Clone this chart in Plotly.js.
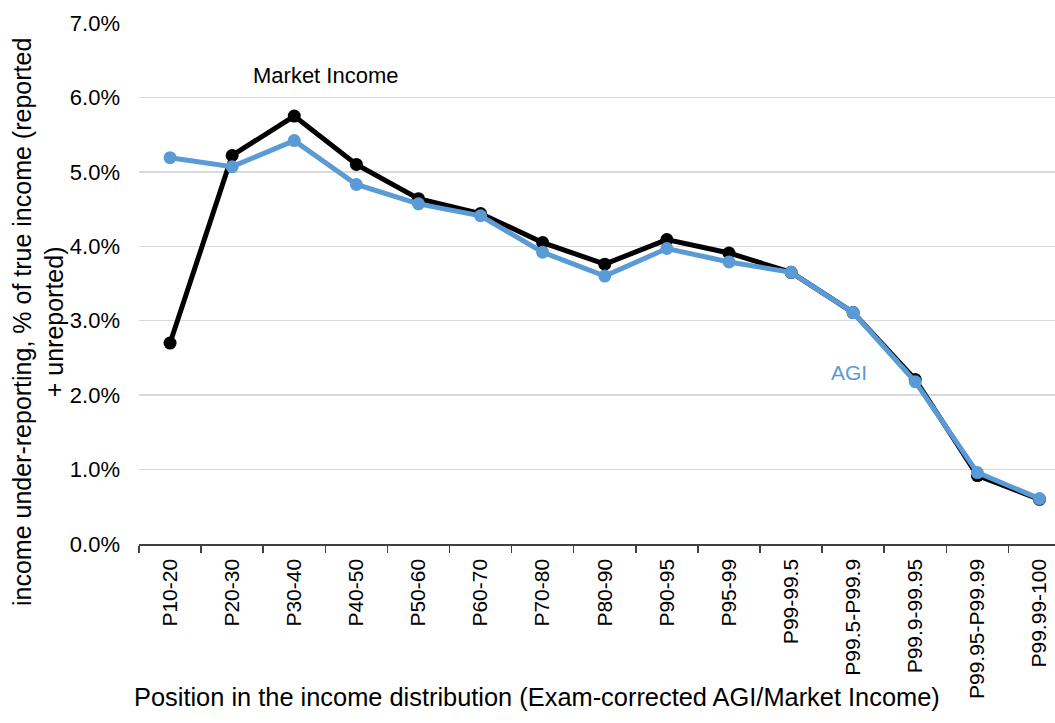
<!DOCTYPE html>
<html>
<head>
<meta charset="utf-8">
<script src="https://cdn.plot.ly/plotly-3.0.1.min.js"></script>
<style>html,body{margin:0;padding:0;background:#fff;}#chart{width:1055px;height:723px;}</style>
</head>
<body>
<div id="chart"></div>
<script>
const categories = ['P10-20','P20-30','P30-40','P40-50','P50-60','P60-70','P70-80','P80-90','P90-95','P95-99','P99-99.5','P99.5-P99.9','P99.9-99.95','P99.95-P99.99','P99.99-100'];
const marketIncome = [2.70,5.22,5.75,5.10,4.64,4.44,4.05,3.76,4.09,3.91,3.65,3.11,2.21,0.92,0.60];
const agi = [5.19,5.07,5.42,4.83,4.57,4.41,3.92,3.60,3.97,3.79,3.65,3.11,2.18,0.96,0.61];
const yTicks = [0,1,2,3,4,5,6,7];
const yTickLabels = ['0.0%','1.0%','2.0%','3.0%','4.0%','5.0%','6.0%','7.0%'];

const FONT = 'Liberation Sans, Arial, sans-serif';

const traces = [
  {x: categories, y: marketIncome, name: 'Market Income', type: 'scatter', mode: 'lines+markers',
   line: {color: '#000000', width: 5}, marker: {color: '#000000', size: 13}},
  {x: categories, y: agi, name: 'AGI', type: 'scatter', mode: 'lines+markers',
   line: {color: '#5B9BD5', width: 5}, marker: {color: '#5B9BD5', size: 13}}
];

const layout = {
  width: 1055, height: 723,
  margin: {l: 139, r: 0, t: 23, b: 179},
  paper_bgcolor: '#ffffff', plot_bgcolor: '#ffffff',
  showlegend: false,
  font: {family: FONT, color: '#000000'},
  xaxis: {
    type: 'category', categoryorder: 'array', categoryarray: categories,
    range: [-0.5, 14.25],
    showgrid: false, zeroline: false,
    showline: true, linecolor: '#404040', linewidth: 1.5,
    ticks: 'outside', tickson: 'boundaries', ticklen: 7, tickcolor: '#404040', tickwidth: 1.5,
    tickangle: -90, tickfont: {family: FONT, size: 21, color: '#000000'},
    ticklabelstandoff: 5
  },
  yaxis: {
    range: [0, 7], tickmode: 'array', tickvals: yTicks, ticktext: yTickLabels,
    showgrid: true, gridcolor: '#d9d9d9', gridwidth: 1.5,
    zeroline: false, showline: false, ticks: '',
    tickfont: {family: FONT, size: 22, color: '#000000'},
    ticklabelstandoff: 18
  },
  annotations: [
    {text: 'Market Income', xref: 'x', yref: 'y', x: 'P30-40', y: 6.3, xshift: 32, showarrow: false,
     font: {family: FONT, size: 22, color: '#000000'}},
    {text: 'AGI', xref: 'x', yref: 'y', x: 'P99.5-P99.9', y: 2.3, xshift: -4, showarrow: false,
     font: {family: FONT, size: 21, color: '#5B9BD5'}},
    {text: 'income under-reporting, % of true income (reported<br>+ unreported)', textangle: -90,
     xref: 'paper', yref: 'paper', x: 0, y: 0.426, xshift: -101, xanchor: 'center', yanchor: 'middle',
     showarrow: false, font: {family: FONT, size: 25, color: '#000000'}},
    {text: 'Position in the income distribution (Exam-corrected AGI/Market Income)',
     xref: 'paper', yref: 'paper', x: 0.435, y: -0.2937, xanchor: 'center', yanchor: 'middle',
     showarrow: false, font: {family: FONT, size: 25.4, color: '#000000'}}
  ]
};

Plotly.newPlot('chart', traces, layout, {displayModeBar: false, staticPlot: true});
</script>
</body>
</html>
